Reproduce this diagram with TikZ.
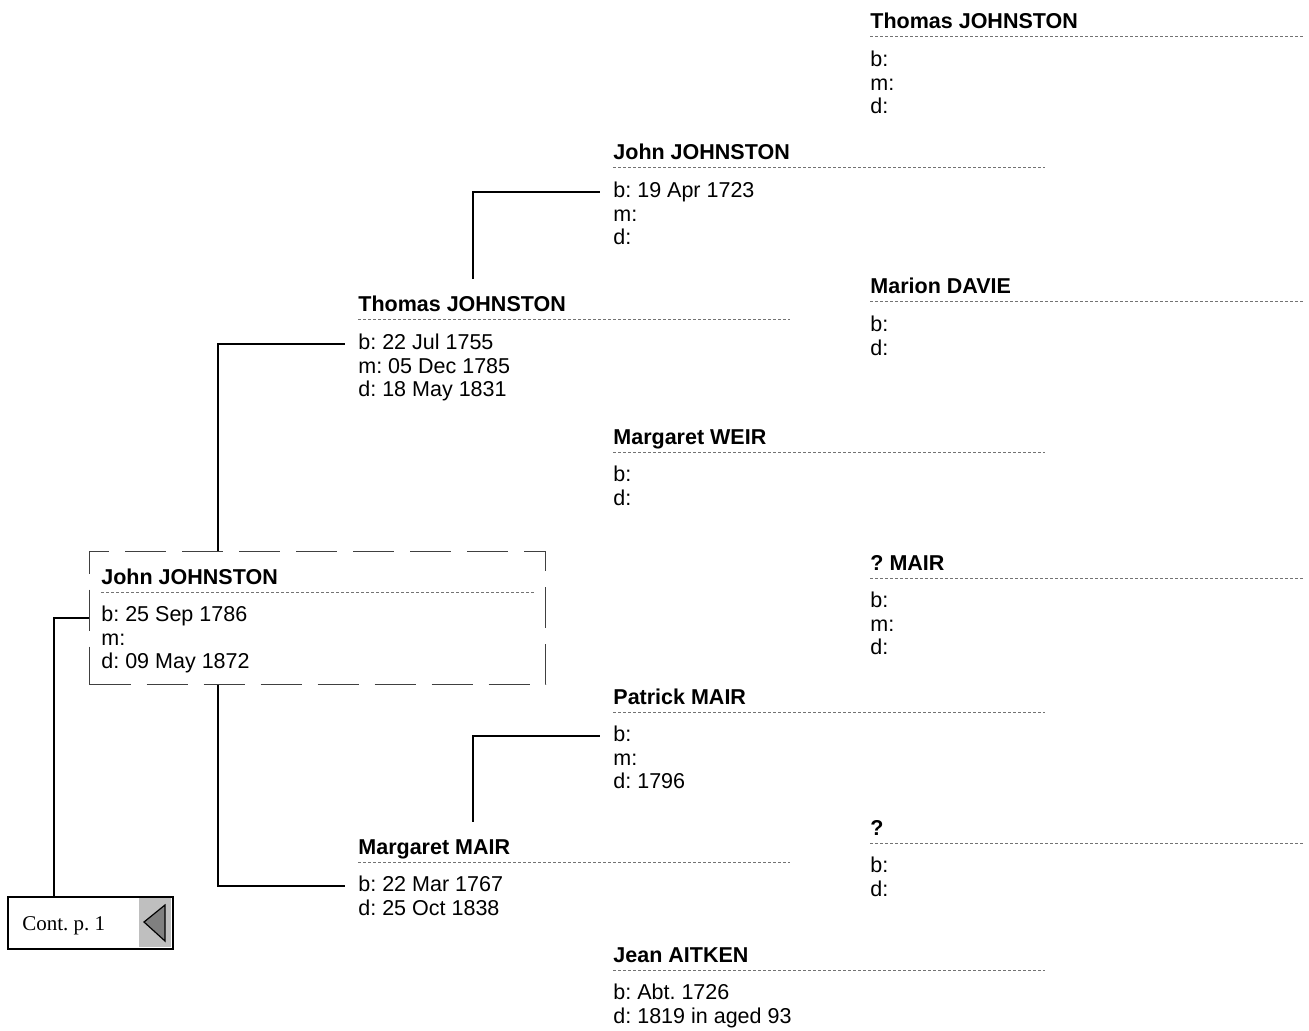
\documentclass[tikz,border=0pt]{standalone}
\usepackage{fontspec}
\setmainfont{Liberation Sans}
\newfontfamily\contfont{Liberation Serif}
\frenchspacing
\begin{document}
\begin{tikzpicture}[x=0.5pt,y=-0.5pt,
    pname/.style={anchor=base west,inner sep=0pt,font=\fontsize{10.75}{11.75}\selectfont\bfseries},
    pinfo/.style={anchor=north west,inner sep=0pt,align=left,font=\fontsize{10.75}{11.75}\selectfont},
    rule/.style={draw=black!55,line width=0.5pt,dash pattern=on 1.5pt off 1pt},
    link/.style={draw=black,line width=1pt},
    pbox/.style={draw=black!75,line width=0.6pt,dash pattern=on 20.5pt off 8pt}]
    \useasboundingbox (0,0) rectangle (1309,1031);
    \foreach \id/\x/\y/\w/\nm/\info in {
        tj4/870/37/433/{Thomas JOHNSTON}/{b:\\m:\\d:},
        md4/870/302/433/{Marion DAVIE}/{b:\\d:},
        qm4/870/578/433/{? MAIR}/{b:\\m:\\d:},
        qq4/870/843/433/{?}/{b:\\d:},
        jj3/613/168/432/{John JOHNSTON}/{b: 19 Apr 1723\\m:\\d:},
        mw3/613/452/432/{Margaret WEIR}/{b:\\d:},
        pm3/613/712/432/{Patrick MAIR}/{b:\\m:\\d: 1796},
        ja3/613/970/432/{Jean AITKEN}/{b: Abt. 1726\\d: 1819 in aged 93},
        tj2/358/320/432/{Thomas JOHNSTON}/{b: 22 Jul 1755\\m: 05 Dec 1785\\d: 18 May 1831},
        mm2/358/862/432/{Margaret MAIR}/{b: 22 Mar 1767\\d: 25 Oct 1838},
        jj1/101/592/434/{John JOHNSTON}/{b: 25 Sep 1786\\m:\\d: 09 May 1872}}
    {
        \node[pname] (\id) at (\x,\y-8) {\nm};
        \draw[rule] (\x,\y) -- ++(\w,0);
        \node[pinfo] (\id-i) at (\x,\y+14) {\info};
        \coordinate (\id-in) at ([shift={(-13,10)}]\id-i.north west);
    }
    \node[pbox,anchor=north west,minimum width=228pt,minimum height=66.5pt,inner sep=0pt] (jbox) at (89,551) {};
    \fill[black!25] (139,897) rectangle (171,947);
    \node[draw,line width=1pt,anchor=north west,minimum width=82.5pt,minimum height=26pt,inner sep=0pt] (cont) at (7,896) {};
    \filldraw[fill=black!50,draw=black,line width=0.6pt] (144,922) -- (165,905) -- (165,941) -- cycle;
    \node[anchor=base west,inner sep=0pt,font=\contfont\fontsize{10.5}{12}\selectfont] (contlbl) at (22,930) {Cont. p. 1};
    \draw[link] ([xshift=64.5pt]jbox.north west) |- (tj2-in);
    \draw[link] ([xshift=64.5pt]jbox.south west) |- (mm2-in);
    \draw[link] ([shift={(115,-17)}]tj2.north west) |- (jj3-in);
    \draw[link] ([shift={(115,-17)}]mm2.north west) |- (pm3-in);
    \draw[link] (jbox.west) -| ([xshift=23.5pt]cont.north west);
\end{tikzpicture}
\end{document}
